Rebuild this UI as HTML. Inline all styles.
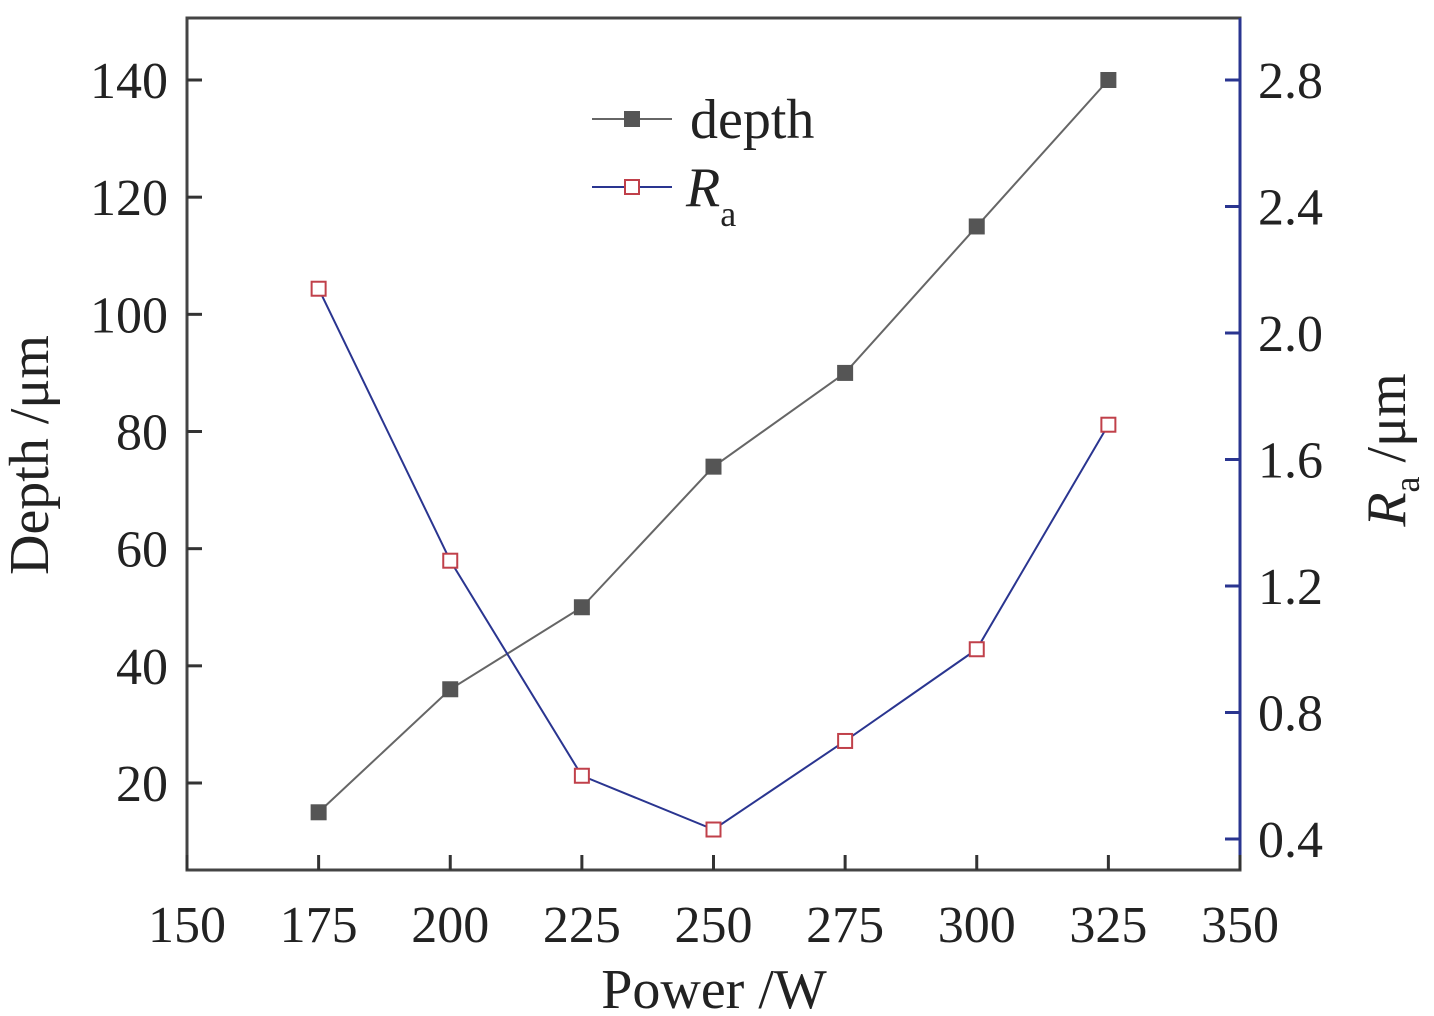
<!DOCTYPE html>
<html><head><meta charset="utf-8"><style>body{margin:0;background:#fff}svg{display:block}text{font-family:"Liberation Serif",serif;fill:#222}</style></head>
<body>
<svg id="chart" width="1434" height="1016" viewBox="0 0 1434 1016" xmlns="http://www.w3.org/2000/svg"></svg>
<script>
const powers=[175,200,225,250,275,300,325];
const depthValues=[15,36,50,74,90,115,140];
const raValues=[2.14,1.28,0.6,0.43,0.71,1.0,1.71];
const xTicks=[150,175,200,225,250,275,300,325,350];
const yLeftTicks=[20,40,60,80,100,120,140];
const yRightTicks=[0.4,0.8,1.2,1.6,2.0,2.4,2.8];
const L=187,R=1240,T=18,B=870;
const x=v=>L+(v-150)*(R-L)/200;
const yl=v=>783-(v-20)*703/120;
const yr=v=>80+(2.8-v)*316.25;
const svg=document.getElementById('chart');
const NS='http://www.w3.org/2000/svg';
function mk(tag,a,parent){const e=document.createElementNS(NS,tag);for(const k in a)e.setAttribute(k,a[k]);(parent||svg).appendChild(e);return e;}
let e;
e=mk('rect',{x:L,y:T,width:R-L,height:B-T,fill:'none',stroke:'#444','stroke-width':3});


e=mk('line',{x1:R,y1:T,x2:R,y2:B,stroke:'#2a3590','stroke-width':3});


xTicks.forEach(v=>{
 e=mk('line',{x1:x(v),y1:B,x2:x(v),y2:B-15,stroke:'#333','stroke-width':3});
 
 
 e=mk('text',{x:x(v),y:942,'text-anchor':'middle','font-size':52});
 e.textContent=v;
 
 
});
yLeftTicks.forEach(v=>{
 e=mk('line',{x1:L,y1:yl(v),x2:L+15,y2:yl(v),stroke:'#333','stroke-width':3});
 
 
 e=mk('text',{x:168,y:yl(v)+18,'text-anchor':'end','font-size':52});
 e.textContent=v;
 
 
});
yRightTicks.forEach(v=>{
 e=mk('line',{x1:R,y1:yr(v),x2:R-15,y2:yr(v),stroke:'#2a3590','stroke-width':3});
 
 
 e=mk('text',{x:1258,y:yr(v)+18,'text-anchor':'start','font-size':52});
 e.textContent=v.toFixed(1);
 
 
});
e=mk('text',{x:714,y:1008,'text-anchor':'middle','font-size':56});
e.textContent='Power /W';


e=mk('text',{x:0,y:0,'text-anchor':'middle','font-size':56,transform:'translate(48,455) rotate(-90)'});
e.textContent='Depth /μm';


e=mk('text',{x:0,y:0,'text-anchor':'middle','font-size':56,transform:'translate(1405,450) rotate(-90)'});
e.innerHTML='<tspan font-style="italic">R</tspan><tspan font-size="36" dy="14">a</tspan><tspan dy="-14"> /μm</tspan>';


e=mk('polyline',{points:powers.map((p,i)=>x(p)+','+yl(depthValues[i])).join(' '),fill:'none',stroke:'#666','stroke-width':2});


e=mk('polyline',{points:powers.map((p,i)=>x(p)+','+yr(raValues[i])).join(' '),fill:'none',stroke:'#2a3590','stroke-width':2});


powers.forEach((p,i)=>{
 e=mk('rect',{x:x(p)-8,y:yl(depthValues[i])-8,width:16,height:16,fill:'#555'});
 
 
 e=mk('rect',{x:x(p)-7,y:yr(raValues[i])-7,width:14,height:14,fill:'#fff',stroke:'#c0404a','stroke-width':2});
 
 
});
e=mk('line',{x1:592,y1:119,x2:672,y2:119,stroke:'#666','stroke-width':2});


e=mk('rect',{x:624,y:111,width:16,height:16,fill:'#555'});


e=mk('text',{x:690,y:138,'font-size':56});
e.textContent='depth';


e=mk('line',{x1:592,y1:187,x2:672,y2:187,stroke:'#2a3590','stroke-width':2});


e=mk('rect',{x:625,y:180,width:14,height:14,fill:'#fff',stroke:'#c0404a','stroke-width':2});


e=mk('text',{x:686,y:206,'font-size':56});
e.innerHTML='<tspan font-style="italic">R</tspan><tspan font-size="36" dy="20">a</tspan>';


</script>
</body></html>
